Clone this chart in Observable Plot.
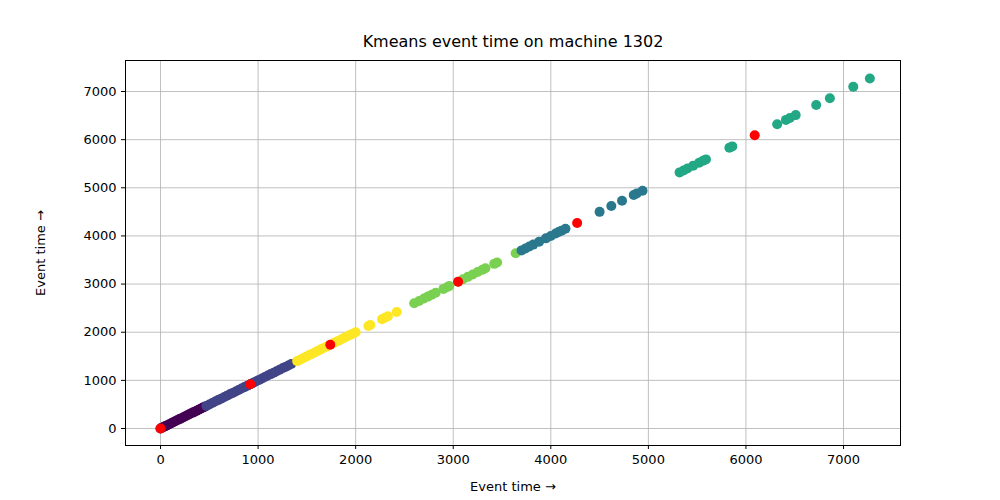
<!DOCTYPE html>
<html>
<head>
<meta charset="utf-8">
<script src="https://cdn.jsdelivr.net/npm/d3@7"></script>
<script src="https://cdn.jsdelivr.net/npm/@observablehq/plot@0.6"></script>
<style>
  body { margin: 0; background: #fff; font-family: "DejaVu Sans", sans-serif; }
</style>
</head>
<body>
<div id="chart"></div>
<script>
// event times per cluster (x and y are the same event time)
const cluster0 = [0, 15, 30, 50, 70, 90, 110, 130, 150, 170, 190, 210, 230, 250, 270, 290, 310, 330, 350, 370, 390, 410, 430, 450];
const cluster1 = [470, 500, 530, 560, 590, 620, 650, 680, 710, 740, 770, 800, 830, 860, 890, 920, 950, 980, 1010, 1040, 1070, 1100, 1130, 1160, 1190, 1220, 1250, 1280, 1310, 1340];
const cluster2 = [1400, 1430, 1460, 1490, 1520, 1550, 1580, 1610, 1640, 1660, 1700, 1740, 1780, 1820, 1850, 1880, 1910, 1940, 1970, 2000, 2130, 2150, 2270, 2300, 2330, 2420];
const cluster3 = [2600, 2650, 2700, 2740, 2780, 2820, 2900, 2940, 2960, 3050, 3100, 3150, 3200, 3250, 3300, 3330, 3420, 3450, 3640];
const cluster4 = [3700, 3740, 3780, 3820, 3880, 3950, 4000, 4050, 4080, 4110, 4150, 4500, 4620, 4730, 4850, 4880, 4940];
const cluster5 = [5320, 5360, 5400, 5460, 5520, 5560, 5590, 5830, 5860, 6320, 6410, 6450, 6510, 6720, 6860, 7100, 7270];
const centroids = [0, 920, 1740, 3050, 4270, 6090];
const clusterColors = ["#440154", "#414487", "#fde725", "#7ad151", "#2a788e", "#22a884"];
const ticks = [0, 1000, 2000, 3000, 4000, 5000, 6000, 7000];

const clusters = [cluster0, cluster1, cluster2, cluster3, cluster4, cluster5];
const points = clusters.flatMap((c, i) => c.map(v => ({ t: v, color: clusterColors[i] })));

const chart = Plot.plot({
  width: 1000,
  height: 500,
  marginTop: 60,
  marginBottom: 55,
  marginLeft: 125,
  marginRight: 100,
  style: { fontSize: "13px", fontFamily: "DejaVu Sans, sans-serif", color: "#000" },
  x: { domain: [-359, 7584], ticks: ticks, tickFormat: d => String(d), label: "Event time", labelAnchor: "center", labelOffset: 45, tickSize: 4 },
  y: { domain: [-353, 7644], ticks: ticks, tickFormat: d => String(d), label: "Event time", labelAnchor: "center", labelOffset: 90, tickSize: 4 },
  marks: [
    Plot.gridX(ticks, { stroke: "#b0b0b0", strokeOpacity: 1, strokeWidth: 0.8 }),
    Plot.gridY(ticks, { stroke: "#b0b0b0", strokeOpacity: 1, strokeWidth: 0.8 }),
    Plot.dot(points, { x: "t", y: "t", r: 5, fill: "color", stroke: null }),
    Plot.dot(centroids, { x: d => d, y: d => d, r: 5, fill: "red" }),
    Plot.frame({ stroke: "#000" }),
    Plot.text(["Kmeans event time on machine 1302"], { frameAnchor: "top", dy: -14, fontSize: 16, lineAnchor: "bottom" })
  ]
});

d3.select("#chart").append(() => chart);
</script>
</body>
</html>
